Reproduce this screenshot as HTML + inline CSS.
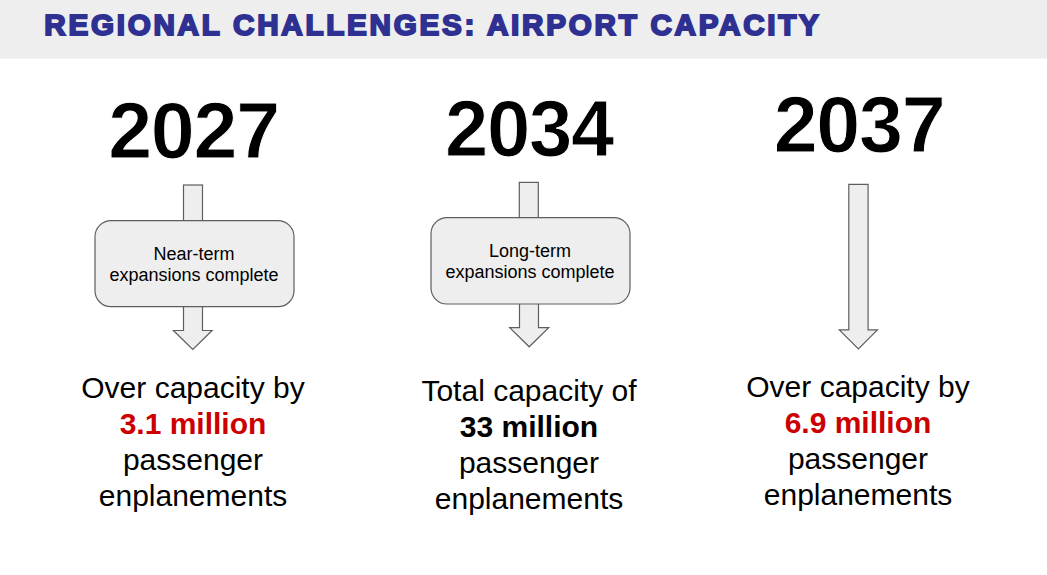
<!DOCTYPE html>
<html><head><meta charset="utf-8">
<style>
html,body{margin:0;padding:0;}
body{width:1047px;height:575px;position:relative;overflow:hidden;background:#fff;font-family:"Liberation Sans",sans-serif;}
.hdr{position:absolute;left:0;top:0;width:1047px;height:58px;background:#eeeeee;box-shadow:0 1px 0 #f5f5f5;}
.title{position:absolute;left:44.3px;top:5px;font-weight:bold;font-size:29.6px;color:#2e3192;white-space:nowrap;line-height:40px;-webkit-text-stroke:2px #2e3192;transform-origin:0 0;transform:scaleX(1.0);letter-spacing:2.76px;}
.yr{position:absolute;font-weight:bold;font-size:79px;line-height:80px;color:#000;-webkit-text-stroke:1px #fff;letter-spacing:-1.3px;white-space:nowrap;text-align:center;width:300px;}
.bx{position:absolute;font-size:18px;line-height:21px;color:#000;text-align:center;width:220px;white-space:nowrap;}
.tx{position:absolute;font-size:30px;line-height:36px;color:#000;text-align:center;width:320px;white-space:nowrap;}
.red{color:#cc0000;font-weight:bold;}
.b{font-weight:bold;}
svg{position:absolute;left:0;top:0;}
</style></head>
<body>
<div class="hdr"></div>
<div class="title">REGIONAL CHALLENGES: AIRPORT CAPACITY</div>

<div class="yr" style="left:43.5px;top:91px;">2027</div>
<div class="yr" style="left:378.8px;top:89px;transform:scaleX(0.985);">2034</div>
<div class="yr" style="left:709px;top:85px;">2037</div>

<svg width="1047" height="575" viewBox="0 0 1047 575">
  <g fill="#eeeeee" stroke="#5e5e5e" stroke-width="1.2">
    <!-- group 1 -->
    <rect x="183.5" y="185" width="19" height="40"/>
    <path d="M183.5 300 V330.5 H173.4 L192.8 349.5 L212.1 330.5 H202.5 V300 Z"/>
    <rect x="95" y="220.7" width="199" height="86" rx="16" ry="16"/>
    <!-- group 2 -->
    <rect x="519.3" y="182.4" width="19" height="40"/>
    <path d="M519.5 298 V327.6 H509.7 L529.2 346.8 L548.7 327.6 H538.5 V298 Z"/>
    <rect x="431" y="217.7" width="199" height="86.3" rx="16" ry="16"/>
    <!-- group 3 -->
    <path d="M848.8 184.3 H868.1 V329.9 H877.4 L858.4 349 L839.3 329.9 H848.8 Z"/>
  </g>
</svg>

<div class="bx" style="left:84px;top:244px;">Near-term<br>expansions complete</div>
<div class="bx" style="left:420px;top:241px;">Long-term<br>expansions complete</div>

<div class="tx" style="left:33px;top:370px;">Over capacity by<br><span class="red">3.1 million</span><br>passenger<br>enplanements</div>
<div class="tx" style="left:369px;top:373px;">Total capacity of<br><span class="b">33 million</span><br>passenger<br>enplanements</div>
<div class="tx" style="left:698px;top:369px;">Over capacity by<br><span class="red">6.9 million</span><br>passenger<br>enplanements</div>
</body></html>
